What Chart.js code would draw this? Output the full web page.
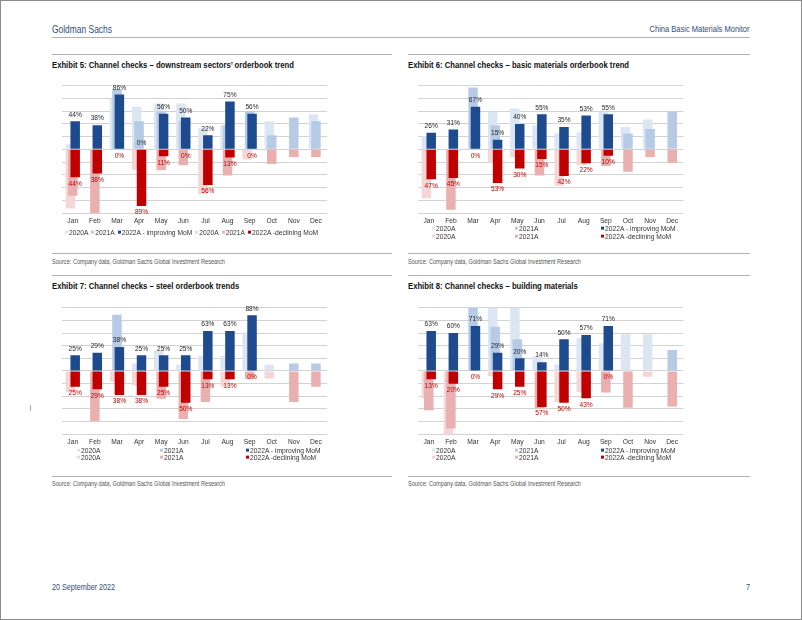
<!DOCTYPE html>
<html><head><meta charset="utf-8">
<script src="https://cdn.jsdelivr.net/npm/chart.js@4.4.0/dist/chart.umd.min.js"></script>
<style>
html,body{margin:0;padding:0;background:#fff;}
#page{position:relative;width:802px;height:620px;overflow:hidden;font-family:"Liberation Sans",Arial,sans-serif;background:#fff;}
#frame{position:absolute;left:0;top:0;width:802px;height:620px;box-sizing:border-box;border:1px solid #8a8a8a;pointer-events:none;}
.t{position:absolute;white-space:nowrap;line-height:1;transform:translateY(-50%);transform-origin:0 50%;font-family:"Liberation Sans",Arial,sans-serif;}
.r{transform-origin:100% 50%;}
.hl{position:absolute;height:1px;background:#b0b0b0;}
canvas{position:absolute;}
.lg{position:absolute;font-size:6.7px;color:#333;white-space:nowrap;line-height:1;transform:translateY(-50%);font-family:"Liberation Sans",Arial,sans-serif;}
.mk{display:inline-block;width:3px;height:3px;margin-right:1px;vertical-align:middle;position:relative;top:-0.5px;}
.it{margin-right:3px;}
.title{font-size:9px;font-weight:bold;color:#111;}
.src{font-size:6.8px;color:#555;}
</style></head>
<body>
<div id="page">
  <div class="t" data-w="60" style="left:52px;top:29px;font-size:10.5px;color:#2e4e7e;">Goldman Sachs</div>
  <div class="t r" data-w="100" style="right:52px;top:29px;font-size:9px;color:#2e4e7e;">China Basic Materials Monitor</div>
  <div class="hl" style="left:52px;top:37px;width:698px;"></div>

  <div class="hl" style="left:52px;top:54px;width:340px;"></div>
  <div class="hl" style="left:408px;top:54px;width:342px;"></div>
  <div class="t title" id="refTitle" style="left:52px;top:65px;">Exhibit 5: Channel checks – downstream sectors’ orderbook trend</div>
  <div class="t title" style="left:408px;top:65px;">Exhibit 6: Channel checks – basic materials orderbook trend</div>

  <canvas id="c5" width="300" height="150" style="left:52px;top:80px;width:300px;height:150px;"></canvas>
  <canvas id="c6" width="300" height="150" style="left:408px;top:80px;width:300px;height:150px;"></canvas>

  <div class="hl" style="left:52px;top:253px;width:340px;"></div>
  <div class="hl" style="left:408px;top:253px;width:342px;"></div>
  <div class="t src" id="refSrc" style="left:52px;top:261.5px;">Source: Company data, Goldman Sachs Global Investment Research</div>
  <div class="t src" style="left:408px;top:261.5px;">Source: Company data, Goldman Sachs Global Investment Research</div>

  <div class="hl" style="left:52px;top:275px;width:340px;"></div>
  <div class="hl" style="left:408px;top:275px;width:342px;"></div>
  <div class="t title" style="left:52px;top:286px;">Exhibit 7: Channel checks – steel orderbook trends</div>
  <div class="t title" style="left:408px;top:286px;">Exhibit 8: Channel checks – building materials</div>

  <canvas id="c7" width="300" height="150" style="left:52px;top:302px;width:300px;height:150px;"></canvas>
  <canvas id="c8" width="300" height="150" style="left:408px;top:302px;width:300px;height:150px;"></canvas>

  <div class="hl" style="left:52px;top:476px;width:340px;"></div>
  <div class="hl" style="left:408px;top:476px;width:342px;"></div>
  <div class="t src" style="left:52px;top:483.5px;">Source: Company data, Goldman Sachs Global Investment Research</div>
  <div class="t src" style="left:408px;top:483.5px;">Source: Company data, Goldman Sachs Global Investment Research</div>

  <div style="position:absolute;left:30px;top:405px;width:1px;height:6px;background:#aaa;"></div>

  <div class="t" data-w="63" style="left:52px;top:587px;font-size:8.8px;color:#2e4e7e;">20 September 2022</div>
  <div class="t r" data-w="4" style="right:52px;top:587px;font-size:8.8px;color:#2e4e7e;">7</div>
  <div id="legends"></div>
  <div id="frame"></div>
</div>
<script>
// ---------- DATA ----------
const months = ['Jan','Feb','Mar','Apr','May','Jun','Jul','Aug','Sep','Oct','Nov','Dec'];
const seriesLabels = ['2020A','2021A','2022A - improving MoM','2020A','2021A','2022A -declining MoM'];

// Exhibit 5: downstream sectors' orderbook trend (% share)
const ex5Impr2020 = [8, null, 80, 67, 72, 72, 33, 38, null, 44, null, 55];
const ex5Impr2021 = [null, null, 95, 44, 60, 45, null, 38, 60, 22, 50, 44];
const ex5Impr2022 = [44, 38, 86, 0, 56, 50, 22, 75, 56, null, null, null];
const ex5Decl2020 = [93, null, null, 32, null, null, 70, null, 16, null, null, null];
const ex5Decl2021 = [73, 100, null, null, 33, 25, null, 41, null, 23, 12, 12];
const ex5Decl2022 = [44, 38, 0, 89, 11, 0, 56, 13, 0, null, null, null];

// Exhibit 6: basic materials orderbook trend
const ex6Impr2020 = [21, null, null, 59, 64, 38, 25, 27, 59, 35, 47, null];
const ex6Impr2021 = [null, null, 97, 38, null, null, null, null, null, 25, 32, 59];
const ex6Impr2022 = [26, 31, 67, 15, 40, 55, 35, 53, 55, null, null, null];
const ex6Decl2020 = [77, null, null, 21, 12, null, 57, 25, null, null, null, null];
const ex6Decl2021 = [null, 95, null, null, null, 41, null, null, 26, 35, 12, 21];
const ex6Decl2022 = [47, 45, 0, 53, 30, 15, 42, 22, 10, null, null, null];

// Exhibit 7: steel orderbook trends
const ex7Impr2020 = [null, null, null, 12, 32, 10, 24, 24, 61, 10, null, null];
const ex7Impr2021 = [null, null, 89, null, null, null, null, null, null, null, 12, 12];
const ex7Impr2022 = [25, 29, 38, 25, 25, 25, 63, 63, 88, null, null, null];
const ex7Decl2020 = [33, null, 17, 23, null, null, null, 25, null, 12, null, null];
const ex7Decl2021 = [null, 79, null, null, 44, 76, 49, null, 13, null, 49, 25];
const ex7Decl2022 = [25, 29, 38, 38, 25, 50, 13, 13, 0, null, null, null];

// Exhibit 8: building materials
const ex8Impr2020 = [null, null, null, 100, 100, 23, 10, 52, 44, 58, 58, null];
const ex8Impr2021 = [null, null, 100, 70, 50, null, null, null, null, null, null, 33];
const ex8Impr2022 = [63, 60, 71, 29, 20, 14, 50, 57, 71, null, null, null];
const ex8Decl2020 = [43, 100, null, 8, null, null, 49, 33, null, null, 9, null];
const ex8Decl2021 = [62, 91, null, null, null, 59, null, null, 34, 58, null, 56];
const ex8Decl2022 = [13, 20, 0, 29, 25, 57, 50, 43, 0, null, null, null];

// ---------- STYLE ----------
const imprColors = ['#dce6f2', '#b7cbe6', '#1e4b8d'];
const declColors = ['#f5d6d6', '#eab0b0', '#c00000'];
const stacks = ['s2020', 's2021', 's2022'];
const fontFam = '"Liberation Sans", Arial, sans-serif';

// condense page texts to the narrow look of the original
function fitWidth(el, target) {
  const w = el.getBoundingClientRect().width;
  if (w > 0) el.style.transform = 'translateY(-50%) scaleX(' + (target / w).toFixed(4) + ')';
}
document.querySelectorAll('[data-w]').forEach(el => fitWidth(el, +el.dataset.w));
const titleScale = 242 / document.getElementById('refTitle').getBoundingClientRect().width;
document.querySelectorAll('.title').forEach(el => el.style.transform = 'translateY(-50%) scaleX(' + titleScale.toFixed(4) + ')');
const srcScale = 173 / document.getElementById('refSrc').getBoundingClientRect().width;
document.querySelectorAll('.src').forEach(el => el.style.transform = 'translateY(-50%) scaleX(' + srcScale.toFixed(4) + ')');

const drawOrderPlugin = {
  id: 'drawOrder',
  beforeDatasetsDraw(chart) {
    const { ctx, chartArea: a } = chart;
    ctx.save();
    ctx.beginPath();
    ctx.rect(a.left, a.top - 0.5, a.right - a.left, a.bottom - a.top + 1);
    ctx.clip();
    chart.getSortedVisibleDatasetMetas().forEach(m => m.controller.draw());
    ctx.restore();
    return false;
  }
};

const valueLabelPlugin = {
  id: 'valueLabels',
  afterDraw(chart) {
    const ctx = chart.ctx;
    const zeroY = chart.scales.y.getPixelForValue(0);
    ctx.save();
    ctx.font = '6.6px ' + fontFam;
    ctx.textAlign = 'center';
    ctx.textBaseline = 'middle';
    chart.data.datasets.forEach((ds, i) => {
      if (!ds.showValues) return;
      const meta = chart.getDatasetMeta(i);
      meta.data.forEach((el, j) => {
        const v = ds.data[j];
        if (v === null || v === undefined) return;
        const txt = Math.abs(v) + '%';
        const y = v === 0 ? zeroY : el.y;
        if (ds.kind === 'impr') {
          ctx.fillStyle = '#262626';
          ctx.fillText(txt, el.x, y - 6.5);
        } else {
          ctx.fillStyle = '#c00000';
          ctx.fillText(txt, el.x, y + 6.5);
        }
      });
    });
    ctx.restore();
  }
};

function makeChart(id, impr, decl, pad) {
  const datasets = [];
  impr.forEach((arr, k) => datasets.push({
    label: seriesLabels[k], data: arr, backgroundColor: imprColors[k],
    stack: stacks[k], kind: 'impr', showValues: k === 2
  }));
  decl.forEach((arr, k) => datasets.push({
    label: seriesLabels[3 + k], data: arr.map(v => (v === null || v === 0) ? v : -v), backgroundColor: declColors[k],
    stack: stacks[k], kind: 'decl', showValues: k === 2
  }));
  return new Chart(document.getElementById(id), {
    type: 'bar',
    data: { labels: months, datasets },
    options: {
      responsive: false, animation: false, events: [],
      layout: { padding: pad },
      datasets: { bar: { categoryPercentage: 0.33, barPercentage: 3.9, borderWidth: 0 } },
      plugins: { legend: { display: false }, tooltip: { enabled: false } },
      scales: {
        x: {
          grid: { display: false, drawTicks: false }, border: { display: false },
          ticks: { color: '#333', font: { size: 6.7, family: fontFam }, padding: 4, maxRotation: 0, autoSkip: false },
          afterFit: s => { s.height = 14; }
        },
        y: {
          stacked: true, min: -100, max: 100,
          ticks: { display: false, stepSize: 20 },
          grid: { color: '#d2d2d2', drawTicks: false, lineWidth: 1 },
          border: { display: false },
          afterFit: s => { s.width = 0; }
        }
      }
    },
    plugins: [drawOrderPlugin, valueLabelPlugin]
  });
}

makeChart('c5', [ex5Impr2020, ex5Impr2021, ex5Impr2022], [ex5Decl2020, ex5Decl2021, ex5Decl2022], { left: 9.7, right: 25, top: 5.7, bottom: 3 });
makeChart('c6', [ex6Impr2020, ex6Impr2021, ex6Impr2022], [ex6Decl2020, ex6Decl2021, ex6Decl2022], { left: 9.7, right: 24.7, top: 5.7, bottom: 3 });
makeChart('c7', [ex7Impr2020, ex7Impr2021, ex7Impr2022], [ex7Decl2020, ex7Decl2021, ex7Decl2022], { left: 9.7, right: 25, top: 5.7, bottom: 3.7 });
makeChart('c8', [ex8Impr2020, ex8Impr2021, ex8Impr2022], [ex8Decl2020, ex8Decl2021, ex8Decl2022], { left: 9.7, right: 24.7, top: 5.7, bottom: 3.7 });

// ---------- LEGENDS ----------
const allColors = imprColors.concat(declColors);
const legendHost = document.getElementById('legends');
function item(k) {
  return '<span class="it"><span class="mk" style="background:' + allColors[k] + '"></span>' + seriesLabels[k] + '</span>';
}
function rowLegend(x, y) {
  const d = document.createElement('div');
  d.className = 'lg';
  d.style.left = x + 'px'; d.style.top = y + 'px';
  d.innerHTML = [0,1,2,3,4,5].map(item).join('');
  legendHost.appendChild(d);
}
function gridLegend(cols, rows) {
  for (let c = 0; c < 3; c++) {
    for (let r = 0; r < 2; r++) {
      const d = document.createElement('div');
      d.className = 'lg';
      d.style.left = cols[c] + 'px'; d.style.top = rows[r] + 'px';
      d.innerHTML = item(r * 3 + c);
      legendHost.appendChild(d);
    }
  }
}
rowLegend(65, 233);
gridLegend([432, 515, 601], [229, 236.5]);
gridLegend([77, 160, 246], [450.7, 458.2]);
gridLegend([432, 515, 601], [450.7, 458.2]);
</script>
</body></html>
